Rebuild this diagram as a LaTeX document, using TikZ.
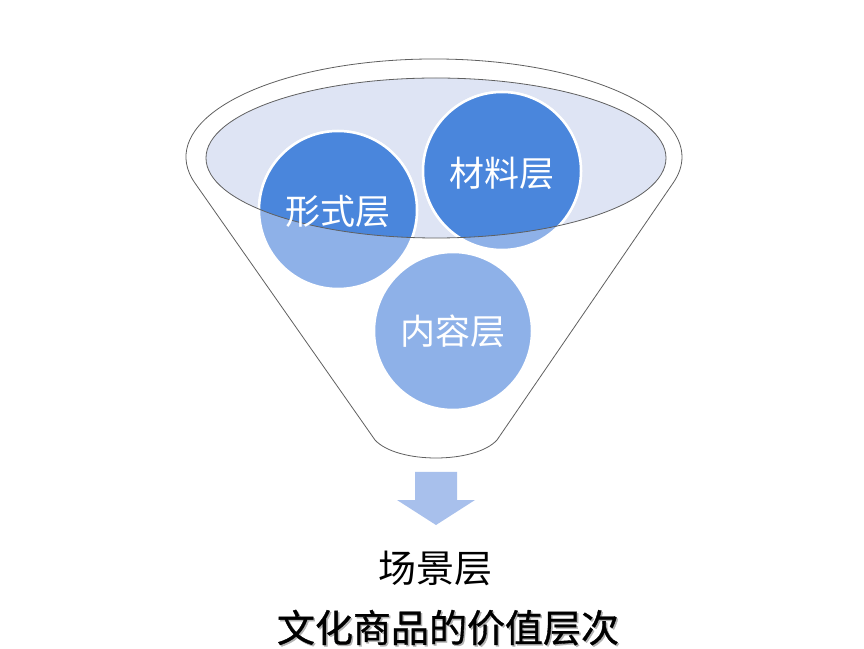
\documentclass[tikz,border=0pt]{standalone}
\usepackage{fontspec}
\newfontfamily\cjk{Noto Sans CJK SC}
\newfontfamily\cjkt[FakeBold=0.9]{Noto Sans CJK SC}
\usetikzlibrary{calc}
\definecolor{darkblue}{HTML}{4A86DC}
\definecolor{lightblue}{HTML}{8EB1E8}
\definecolor{lavender}{HTML}{DEE4F4}
\definecolor{arrowblue}{HTML}{A8C0EC}
\definecolor{rimgray}{HTML}{606060}
\begin{document}
\begin{tikzpicture}[x=1pt,y=1pt,
  ball/.style={circle, minimum size=158pt, inner sep=0pt, draw=white, line width=2.5pt},
  balltext/.style={text=white, font=\cjk\fontsize{35}{40}\selectfont, anchor=base},
  caption/.style={text=black, font=\cjk\fontsize{38}{42}\selectfont, anchor=base},
  titletext/.style={text=black, font=\cjkt\fontsize{38}{42}\selectfont, anchor=base},
  rim/.style={draw=rimgray, line width=0.8pt}
]
\useasboundingbox (0,0) rectangle (864,648);
\fill[white] (0,0) rectangle (864,648);
% funnel body
\coordinate (fc) at (434,491);
\draw[rim, fill=white] ($(fc)+(195.5:248 and 98)$) coordinate (lt)
  arc[start angle=195.5, end angle=-15.2, x radius=248, y radius=98] coordinate (rt)
  -- (497,208) coordinate (br)
  .. controls (475,184) and (397,184) .. (375,208) coordinate (bl) -- cycle;
% inner ellipse fill
\fill[lavender] (436,490) ellipse[x radius=230, y radius=80];
% balls (light)
\node[ball, fill=lightblue] (xs) at (338,438) {};
\node[ball, fill=lightblue] (cl) at (502,477) {};
\node[ball, fill=lightblue] (nr) at (453,317) {};
% dark parts inside ellipse
\begin{scope}
  \clip (436,490) ellipse[x radius=230, y radius=80];
  \fill[darkblue] (xs.center) circle[radius=79];
  \fill[darkblue] (cl.center) circle[radius=79];
  \draw[white, line width=2.5pt] (xs.center) circle[radius=79];
  \draw[white, line width=2.5pt] (cl.center) circle[radius=79];
\end{scope}
\draw[rim] (436,490) ellipse[x radius=230, y radius=80];
% labels
\node[balltext] at ($(xs.center)+(0,-15)$) {形式层};
\node[balltext] at ($(cl.center)+(0,-16)$) {材料层};
\node[balltext] at ($(nr.center)+(0,-14)$) {内容层};
% arrow
\fill[arrowblue] (415,176) -- (457,176) -- (457,148) -- (475,148) -- (436,123)
  -- (397,148) -- (415,148) -- cycle;
% captions
\node[caption] (cj) at (435,66) {场景层};
\node[titletext, text=black!30] at (449.5,4.5) {文化商品的价值层次};
\node[titletext] (tt) at (448,6) {文化商品的价值层次};
\end{tikzpicture}
\end{document}
